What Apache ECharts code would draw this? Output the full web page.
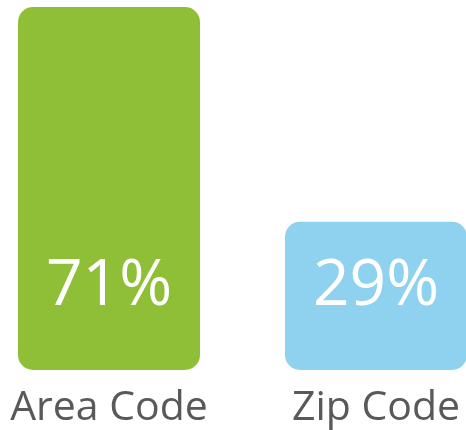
<!DOCTYPE html>
<html>
<head>
<meta charset="utf-8">
<script src="https://cdn.jsdelivr.net/npm/echarts@6/dist/echarts.min.js"></script>
<style>
    html, body { margin: 0; padding: 0; background: #fff; }
    #chart { width: 466px; height: 430px; }
</style>
</head>
<body>
<div id="chart"></div>
<script>
    // 数据
    var categories = ['Area Code', 'Zip Code'];
    var values = [71, 29];
    var barColors = ['#8fbe37', '#8ed2ef'];

    var chart = echarts.init(document.getElementById('chart'));
    chart.setOption({
        animation: false,
        grid: {left: 109, right: 90, top: 7, bottom: 60},
        xAxis: {
            type: 'category',
            data: categories,
            boundaryGap: false,
            axisLine: {show: false},
            axisTick: {show: false},
            axisLabel: {
                color: '#595959',
                fontFamily: 'Open Sans',
                fontSize: 41,
                margin: 18
            }
        },
        yAxis: {
            type: 'value',
            min: 0,
            max: 71,
            show: false,
            splitLine: {show: false}
        },
        series: [{
            type: 'bar',
            barWidth: 182,
            clip: false,
            data: values.map(function (v, i) {
                return {value: v, itemStyle: {color: barColors[i]}};
            }),
            itemStyle: {borderRadius: 15},
            label: {
                show: true,
                position: 'insideBottom',
                distance: 51,
                color: '#fff',
                fontFamily: 'Open Sans',
                fontSize: 64,
                lineHeight: 64,
                formatter: '{c}%'
            }
        }]
    });
</script>
</body>
</html>
